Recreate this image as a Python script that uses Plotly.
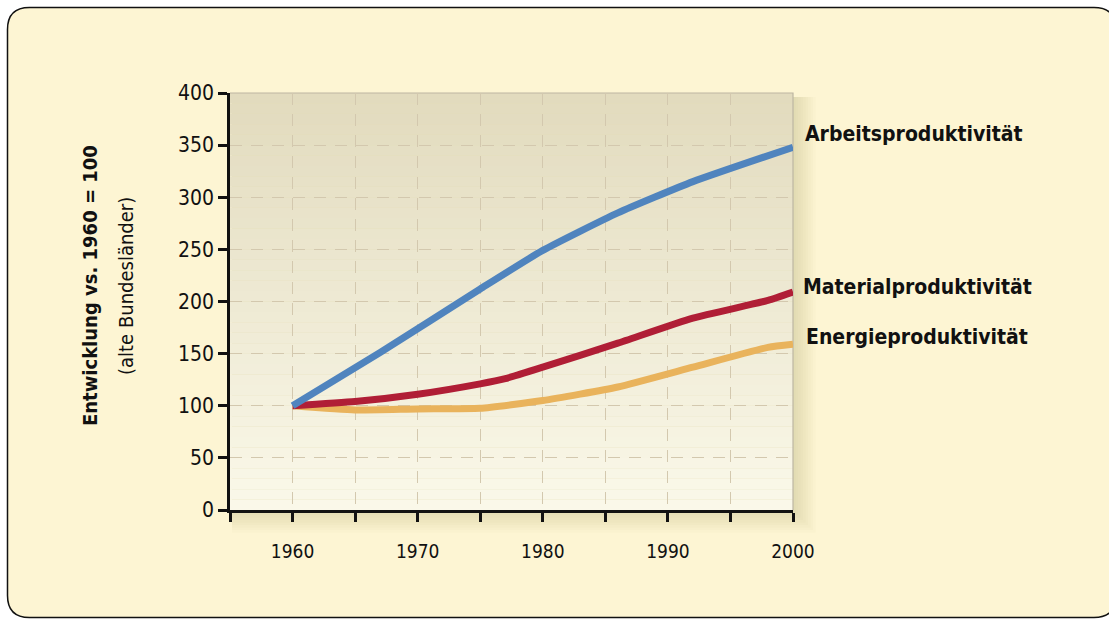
import plotly.graph_objects as go

# ---------------- data ----------------
years_arbeit = [1960, 1967, 1975, 1980, 1986, 1992, 2000]
arbeit = [100, 151, 212, 249, 285, 315, 348]

years_material = [1960, 1965, 1970, 1975, 1977, 1980, 1986, 1992, 1998, 2000]
material = [100, 104, 111, 121, 126, 137, 160, 184, 201, 209]

years_energie = [1960, 1965, 1970, 1975, 1980, 1986, 1992, 1998, 2000]
energie = [100, 96, 97, 97.5, 105, 118, 137, 156, 159]

series_names = ["Arbeitsproduktivität", "Materialproduktivität", "Energieproduktivität"]
x_tickvals = [1955, 1960, 1965, 1970, 1975, 1980, 1985, 1990, 1995, 2000]
x_ticktext = ["", "1960", "", "1970", "", "1980", "", "1990", "", "2000"]
y_tickvals = [0, 50, 100, 150, 200, 250, 300, 350, 400]
y_title_main = "Entwicklung vs. 1960 = 100"
y_title_sub = "(alte Bundesländer)"

# ---------------- layout geometry (pixels) ----------------
W, H = 1109, 619
L, R, T, B = 230, 793, 93, 510


def px(x):
    return (x - L) / (R - L)


def py(y):
    return (B - y) / (B - T)


FONT = "DejaVu Sans Condensed, Liberation Sans Narrow, sans-serif"
BLUE = "#5084BE"
RED = "#B01E36"
ORANGE = "#E9B35C"

fig = go.Figure()
fig.add_trace(go.Scatter(x=years_energie, y=energie, mode="lines", name=series_names[2],
                         line=dict(color=ORANGE, width=7, shape="spline", smoothing=0.5)))
fig.add_trace(go.Scatter(x=years_material, y=material, mode="lines", name=series_names[1],
                         line=dict(color=RED, width=7, shape="spline", smoothing=0.5)))
fig.add_trace(go.Scatter(x=years_arbeit, y=arbeit, mode="lines", name=series_names[0],
                         line=dict(color=BLUE, width=7, shape="spline", smoothing=0.5)))

shapes = []
# card with rounded corners
l0, t0, r0, b0, rad = 7.5, 7.5, 1116, 617.5, 22


def card_path():
    pts = [
        f"M {px(l0 + rad)} {py(t0)}",
        f"L {px(r0 - rad)} {py(t0)}",
        f"Q {px(r0)} {py(t0)} {px(r0)} {py(t0 + rad)}",
        f"L {px(r0)} {py(b0 - rad)}",
        f"Q {px(r0)} {py(b0)} {px(r0 - rad)} {py(b0)}",
        f"L {px(l0 + rad)} {py(b0)}",
        f"Q {px(l0)} {py(b0)} {px(l0)} {py(b0 - rad)}",
        f"L {px(l0)} {py(t0 + rad)}",
        f"Q {px(l0)} {py(t0)} {px(l0 + rad)} {py(t0)}",
        "Z",
    ]
    return " ".join(pts)


shapes.append(dict(type="path", xref="paper", yref="paper", path=card_path(),
                   fillcolor="#FDF5D3", line=dict(color="#111111", width=1.5), layer="below"))

# soft shadow around plot area (right / bottom)
for i in range(1, 10):
    shapes.append(dict(type="rect", xref="paper", yref="paper",
                       x0=px(L + 2), x1=px(R + 2.5 * i), y0=py(B + 2.5 * i), y1=py(T + 4),
                       fillcolor="rgba(170,150,95,0.03)", line=dict(width=0), layer="below"))

# vertical gradient inside plot area
N = 40
top = (226, 219, 190)
bot = (250, 248, 233)
for i in range(N):
    f = i / (N - 1)
    c = tuple(round(top[k] + (bot[k] - top[k]) * f) for k in range(3))
    shapes.append(dict(type="rect", xref="x domain", yref="y domain",
                       x0=0, x1=1, y0=1 - (i + 1) / N, y1=1 - i / N,
                       fillcolor=f"rgb{c}", line=dict(width=0), layer="below"))
# thin grey frame at top / right
shapes.append(dict(type="path", xref="x domain", yref="y domain",
                   path="M 0 1 L 1 1 L 1 0", line=dict(color="#BDB6A2", width=1.2), layer="below"))

fig.update_layout(
    width=W, height=H,
    margin=dict(l=L, r=W - R, t=T, b=H - B),
    paper_bgcolor="white",
    plot_bgcolor="rgba(0,0,0,0)",
    showlegend=False,
    shapes=shapes,
    font=dict(family=FONT, color="#111111"),
)

fig.update_xaxes(
    range=[1955, 2000], tickvals=x_tickvals, ticktext=x_ticktext,
    showline=True, linecolor="#111111", linewidth=2.5,
    ticks="outside", ticklen=9, tickwidth=2.5, tickcolor="#111111",
    tickfont=dict(family=FONT, size=19, color="#111111"),
    ticklabelstandoff=13,
    showgrid=True, gridcolor="#D3C8AE", gridwidth=1, griddash="12px,9px",
    zeroline=False, fixedrange=True,
)
fig.update_yaxes(
    range=[0, 400], tickvals=y_tickvals,
    showline=True, linecolor="#111111", linewidth=2.5,
    ticks="outside", ticklen=9, tickwidth=2.5, tickcolor="#111111",
    tickfont=dict(family=FONT, size=21, color="#111111"),
    showgrid=True, gridcolor="#D3C8AE", gridwidth=1, griddash="12px,9px",
    zeroline=False, fixedrange=True,
)

annotations = [
    dict(x=px(90), y=py(286), xref="paper", yref="paper", text=y_title_main, textangle=-90,
         showarrow=False, xanchor="center", yanchor="middle",
         font=dict(family=FONT, size=20, weight="bold", color="#111111")),
    dict(x=px(126), y=py(286), xref="paper", yref="paper", text=y_title_sub, textangle=-90,
         showarrow=False, xanchor="center", yanchor="middle",
         font=dict(family=FONT, size=20, color="#111111")),
    dict(x=px(803), y=py(134), xref="paper", yref="paper", text=series_names[0],
         showarrow=False, xanchor="left", yanchor="middle",
         font=dict(family=FONT, size=21, weight="bold", color="#111111")),
    dict(x=px(801), y=py(287), xref="paper", yref="paper", text=series_names[1],
         showarrow=False, xanchor="left", yanchor="middle",
         font=dict(family=FONT, size=21, weight="bold", color="#111111")),
    dict(x=px(804), y=py(337), xref="paper", yref="paper", text=series_names[2],
         showarrow=False, xanchor="left", yanchor="middle",
         font=dict(family=FONT, size=21, weight="bold", color="#111111")),
]
fig.update_layout(annotations=annotations)

fig.write_html("out.html", config={"displayModeBar": False},
               post_script="document.body.style.margin='0';document.body.style.padding='0';")
